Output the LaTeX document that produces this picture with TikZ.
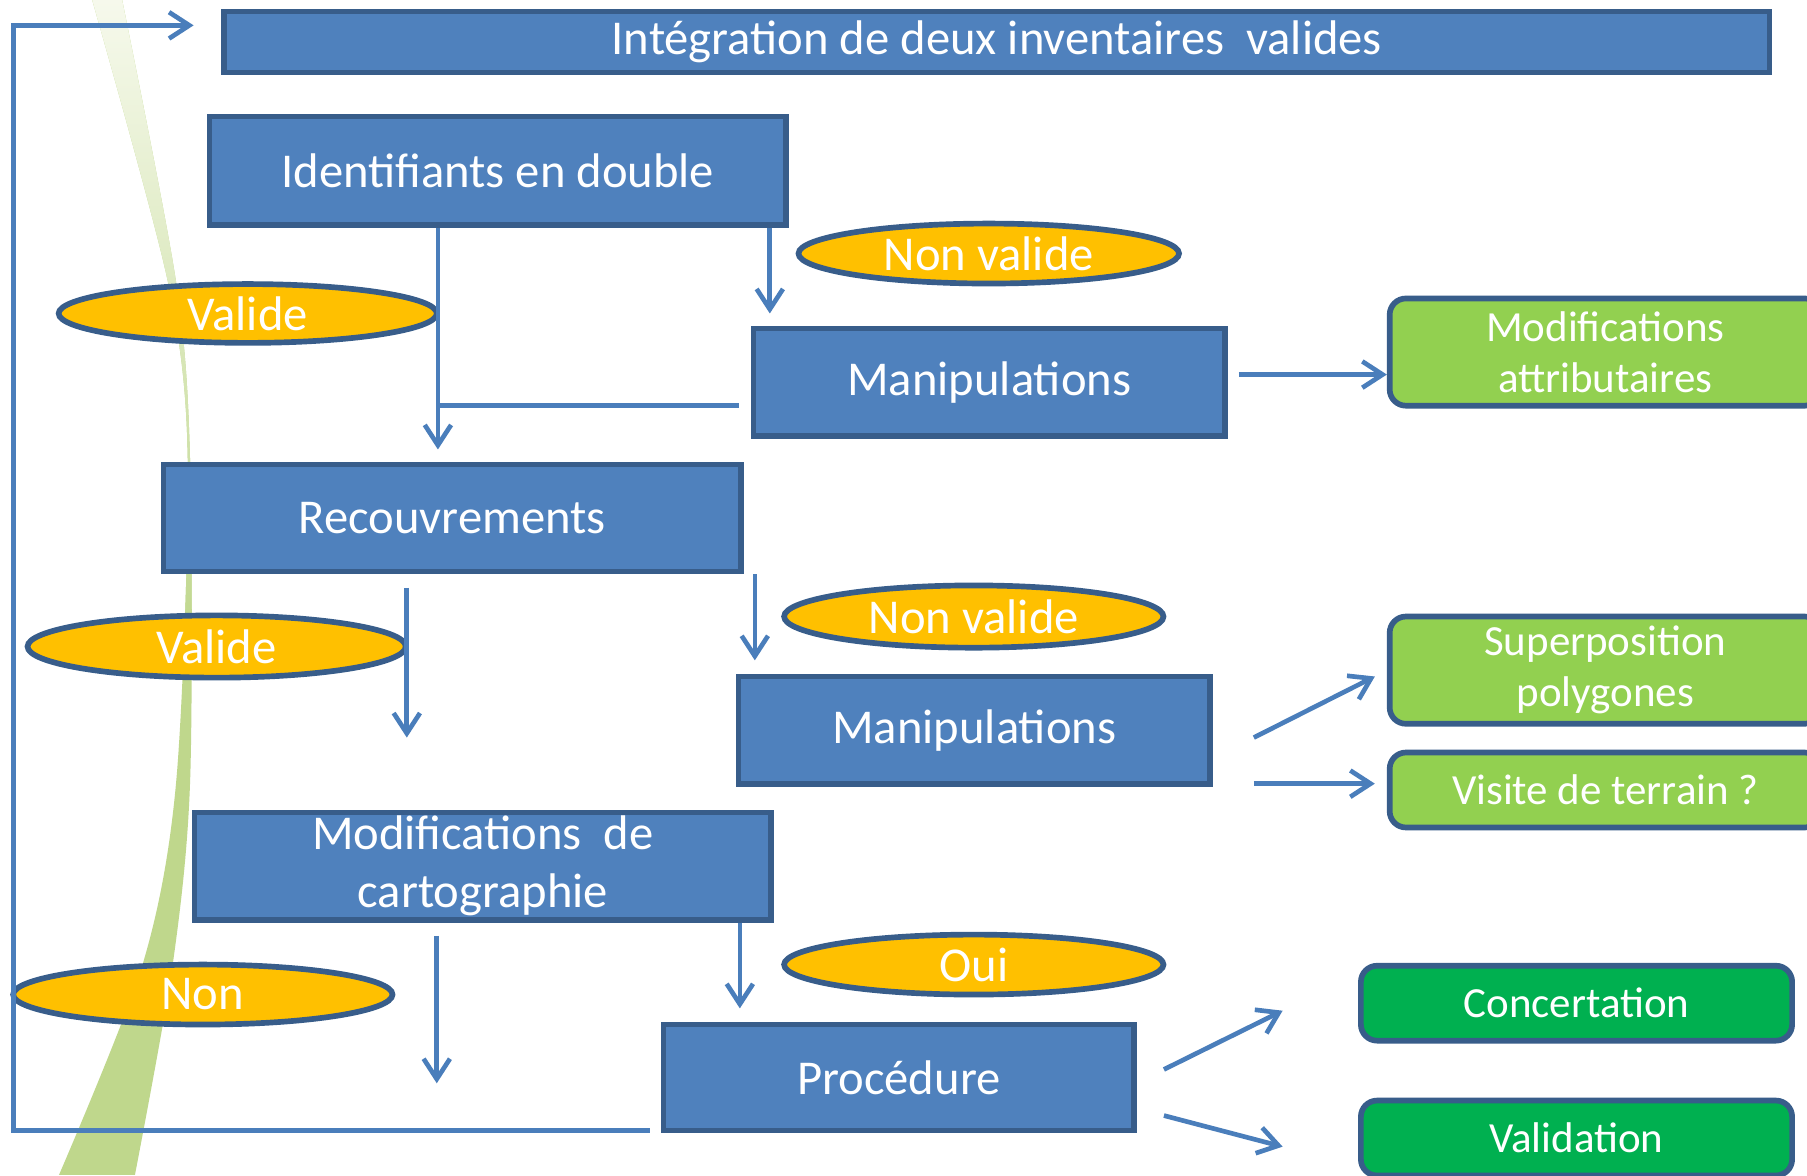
\documentclass[tikz,border=0pt]{standalone}
\usepackage{fontspec}
\setmainfont{Carlito}
\usetikzlibrary{arrows.meta,shapes.geometric,calc}
\definecolor{boxblue}{HTML}{4F81BD}
\definecolor{edgeblue}{HTML}{385D8A}
\definecolor{linkblue}{HTML}{4A7EBB}
\definecolor{gold}{HTML}{FFC000}
\definecolor{lgreen}{HTML}{92D050}
\definecolor{dgreen}{HTML}{00B050}
\definecolor{swooshgreen}{HTML}{BFD78C}
\definecolor{swooshtop}{HTML}{F6F9EC}
\begin{document}
\begin{tikzpicture}[x=0.01cm,y=-0.01cm,
  bluebox/.style={rectangle,draw=edgeblue,fill=boxblue,line width=1.4pt,text=white,inner sep=0pt,align=center,font=\fontsize{12}{14.2}\selectfont},
  greenbox/.style={rectangle,rounded corners=4pt,draw=edgeblue,fill=lgreen,line width=1.4pt,text=white,inner sep=0pt,align=center,font=\fontsize{10.6}{12.5}\selectfont},
  darkbox/.style={greenbox,fill=dgreen},
  oval/.style={ellipse,draw=edgeblue,fill=gold,line width=1.4pt,text=white,inner sep=0pt,font=\fontsize{12}{14}\selectfont},
  link/.style={draw=linkblue,line width=1.15pt},
  arr/.style={link,-{Straight Barb[length=5pt,width=6.5pt]}}
]
\clip (0,0) rectangle (1568,1020);
\fill[white] (0,0) rectangle (1568,1020);

% swoosh
\begin{scope}
\clip plot[smooth] coordinates {(80,0) (146,246) (163,402) (153,677) (124,836) (51,1020)}
  -- plot[smooth] coordinates {(117,1020) (150,836) (165,677) (165,402) (153,246) (106,0)}
  -- cycle;
\fill[swooshgreen] (0,0) rectangle (300,1020);
\shade[top color=swooshtop,bottom color=swooshgreen] (0,0) rectangle (300,560);
\end{scope}

% boxes
\node[bluebox,minimum width=13.4cm,minimum height=0.53cm] (top) at (865,36.5) {Intégration de deux inventaires~ valides};
\node[bluebox,minimum width=5cm,minimum height=0.94cm] (id) at (432,148) {Identifiants en double};
\node[bluebox,minimum width=4.09cm,minimum height=0.93cm] (m1) at (858.5,331.5) {Manipulations};
\node[bluebox,minimum width=5.01cm,minimum height=0.93cm] (rec) at (392.5,449.5) {Recouvrements};
\node[bluebox,minimum width=4.09cm,minimum height=0.93cm] (m2) at (845.5,633.5) {Manipulations};
\node[bluebox,minimum width=5cm,minimum height=0.93cm] (carto) at (419,751.5) {Modifications~ de\\cartographie};
\node[bluebox,minimum width=4.08cm,minimum height=0.92cm] (proc) at (780,935) {Procédure};

\node[greenbox,minimum width=3.74cm,minimum height=0.93cm] (attr) at (1393,305.5) {Modifications\\attributaires};
\node[greenbox,minimum width=3.74cm,minimum height=0.93cm] (sup) at (1393,581.5) {Superposition\\polygones};
\node[greenbox,minimum width=3.74cm,minimum height=0.65cm] (vis) at (1393,685.5) {Visite de terrain ?};
\node[darkbox,minimum width=3.74cm,minimum height=0.65cm] (conc) at (1368,870.5) {Concertation};
\node[darkbox,minimum width=3.74cm,minimum height=0.65cm] (valid) at (1368,987.5) {Validation};

% ellipses
\node[oval,minimum width=3.3cm,minimum height=0.52cm] (nv1) at (858,220) {Non valide};
\node[oval,minimum width=3.28cm,minimum height=0.51cm] (v1) at (215,272) {Valide};
\node[oval,minimum width=3.29cm,minimum height=0.54cm] (nv2) at (845,535) {Non valide};
\node[oval,minimum width=3.28cm,minimum height=0.54cm] (v2) at (188,561) {Valide};
\node[oval,minimum width=3.29cm,minimum height=0.52cm] (oui) at (845,837) {Oui};
\node[oval,minimum width=3.29cm,minimum height=0.52cm] (non) at (176,863) {Non};

% free ends
\coordinate (a1) at (668,272);
\coordinate (a2) at (380,390);
\coordinate (j1) at (380,352);
\coordinate (m1l) at (641,352);
\coordinate (m1r) at (1075,325);
\coordinate (a3) at (655,573);
\coordinate (s4) at (353,510);
\coordinate (a4) at (353,640);
\coordinate (m2a) at (1088,640);
\coordinate (m2b) at (1088,680);
\coordinate (t2a) at (1193,587);
\coordinate (t2b) at (1193,680);
\coordinate (a5) at (642,875);
\coordinate (s6) at (379,812);
\coordinate (a6) at (379,940);
\coordinate (pa) at (1010,928);
\coordinate (pb) at (1010,968);
\coordinate (ta) at (1113,877);
\coordinate (tb) at (1113,995);
\coordinate (fbA) at (564,981);
\coordinate (fbB) at (12,981);
\coordinate (fbC) at (12,22);
\coordinate (fbD) at (168,22);

% connectors
\draw[arr] (id.south -| a1) -- (a1);
\draw[arr] (id.south -| a2) -- (a2);
\draw[link] (m1l) -- (j1);
\draw[arr] (m1r) -- (m1r -| attr.west);
\draw[arr] (rec.south -| a3) -- (a3);
\draw[arr] (s4) -- (a4);
\draw[arr] (m2a) -- (t2a);
\draw[arr] (m2b) -- (t2b);
\draw[arr] (carto.south -| a5) -- (a5);
\draw[arr] (s6) -- (a6);
\draw[arr] (pa) -- (ta);
\draw[arr] (pb) -- (tb);
\draw[arr] (fbA) -- (fbB) -- (fbC) -- (fbD);
\end{tikzpicture}
\end{document}
